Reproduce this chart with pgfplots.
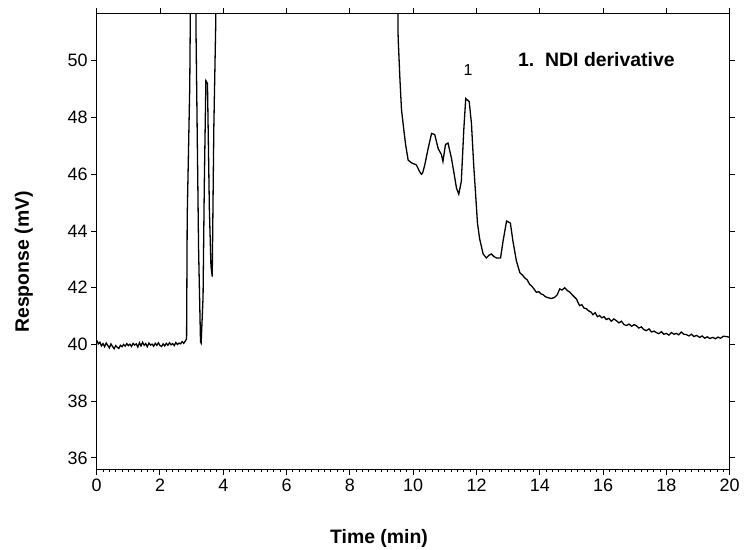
\documentclass[border=0pt]{standalone}
\usepackage{fontspec}
\setmainfont{Liberation Sans}
\usepackage{pgfplots}
\pgfplotsset{compat=1.18}
\begin{document}
\begin{tikzpicture}
\path[use as bounding box] (-96.7bp,-81bp) rectangle (650.3bp,469bp);
\pgfplotsset{chrom/.style={
  at={(0,0)}, anchor=south west,
  scale only axis, width=633bp, height=455bp,
  xmin=0, xmax=20, ymin=35.61, ymax=51.65,
  xtick={0,2,...,20}, ytick={36,38,...,50},
  tick align=outside,
  axis line style={line width=1bp},
  every tick/.style={black, line width=1bp},
}}
\begin{axis}[
  chrom,
  xtick pos=left, ytick pos=left,
  minor x tick num=9,
  major tick length=5.5bp, minor tick length=2.5bp,
  tick label style={font=\fontsize{18}{18}\selectfont},
  xticklabel style={yshift=-1bp},
  /pgf/number format/assume math mode=true,
  xlabel={Time (min)}, ylabel={Response (mV)},
  label style={font=\fontsize{19.5}{19.5}\selectfont\bfseries},
  xlabel style={at={(axis description cs:0.446,-0.152)}, anchor=center},
  ylabel style={at={(axis description cs:-0.115,0.455)}, anchor=center},
]
\addplot[black, line width=1.3bp] coordinates {
(0.00,40.15)(0.05,40.02)(0.10,40.08)(0.15,39.95)(0.20,40.03)(0.25,39.92)(0.30,40.05)(0.35,39.97)(0.40,39.88)(0.45,40.02)
(0.50,39.93)(0.55,39.85)(0.60,39.96)(0.65,39.90)(0.70,39.86)(0.75,39.97)(0.80,39.92)(0.85,40.00)(0.90,39.94)(0.95,40.03)
(1.00,39.96)(1.05,40.01)(1.10,39.93)(1.15,40.04)(1.20,39.98)(1.25,40.02)(1.30,39.91)(1.35,40.06)(1.40,39.95)(1.45,40.08)
(1.50,39.97)(1.55,40.03)(1.60,39.92)(1.65,40.05)(1.70,39.98)(1.75,40.01)(1.80,39.94)(1.85,40.04)(1.90,39.97)(1.95,40.06)
(2.00,39.96)(2.05,39.93)(2.10,40.02)(2.15,39.95)(2.20,40.04)(2.25,39.97)(2.30,40.06)(2.35,39.99)(2.40,40.03)(2.45,39.96)
(2.50,40.07)(2.55,40.00)(2.60,40.05)(2.65,40.02)(2.70,40.10)(2.75,40.04)(2.80,40.12)(2.84,40.20)
(2.86,44.5)(2.94,49.1)(3.02,60)(3.12,60)(3.14,50.84)(3.22,43.3)(3.28,40.1)
(3.30,40.05)(3.36,41.65)(3.40,45.65)(3.45,49.3)(3.50,49.2)(3.56,44.77)(3.61,42.77)(3.65,42.39)(3.70,47.6)(3.76,51.26)(3.80,60)
(9.50,60)
(9.52,51.0)(9.53,50.67)(9.58,49.37)(9.63,48.28)(9.70,47.6)(9.76,47.05)(9.84,46.5)(9.95,46.4)(10.10,46.33)(10.20,46.1)
(10.26,46.0)(10.30,46.05)(10.37,46.35)(10.47,46.9)(10.58,47.44)(10.68,47.4)(10.79,46.9)(10.89,46.7)(10.94,46.45)(11.02,47.05)
(11.10,47.1)(11.21,46.56)(11.28,46.1)(11.37,45.5)(11.44,45.3)(11.52,45.75)(11.60,47.6)(11.66,48.67)(11.77,48.56)(11.84,47.8)
(11.91,46.35)(11.98,45.16)(12.03,44.28)(12.10,43.72)(12.21,43.19)(12.31,43.05)(12.40,43.15)(12.47,43.19)(12.55,43.1)(12.63,43.05)
(12.76,43.05)(12.84,43.65)(12.95,44.35)(13.07,44.28)(13.15,43.65)(13.26,42.95)(13.37,42.53)(13.45,42.45)(13.52,42.35)(13.60,42.28)
(13.68,42.12)(13.75,42.05)(13.82,41.95)(13.89,41.84)(13.97,41.86)(14.04,41.78)(14.10,41.76)(14.18,41.68)(14.26,41.65)(14.36,41.62)
(14.47,41.66)(14.55,41.75)(14.63,41.96)(14.70,41.92)(14.79,42.0)(14.87,41.9)(14.95,41.84)(15.05,41.72)(15.16,41.6)(15.22,41.45)
(15.26,41.37)(15.33,41.40)(15.40,41.28)(15.47,41.26)(15.55,41.18)(15.62,41.14)(15.68,41.05)(15.75,41.12)(15.82,40.98)(15.89,41.02)
(15.96,40.94)(16.03,40.98)(16.10,40.88)(16.18,40.92)(16.26,40.82)(16.34,40.90)(16.42,40.84)(16.50,40.76)(16.58,40.82)(16.66,40.70)
(16.74,40.67)(16.82,40.72)(16.90,40.64)(16.98,40.70)(17.05,40.66)(17.13,40.58)(17.21,40.62)(17.29,40.52)(17.37,40.49)(17.45,40.55)
(17.53,40.44)(17.61,40.47)(17.68,40.42)(17.76,40.38)(17.84,40.45)(17.92,40.36)(18.00,40.39)(18.08,40.33)(18.16,40.42)(18.24,40.36)
(18.31,40.39)(18.39,40.34)(18.47,40.44)(18.55,40.36)(18.63,40.35)(18.71,40.30)(18.79,40.36)(18.87,40.28)(18.95,40.32)(19.05,40.25)
(19.13,40.30)(19.21,40.22)(19.29,40.27)(19.37,40.21)(19.47,40.25)(19.55,40.20)(19.63,40.26)(19.71,40.22)(19.80,40.29)(19.89,40.28)
(20.00,40.25)
};
\node[font=\fontsize{16}{16}\selectfont] at (axis cs:11.73,49.68) {1};
\node[font=\fontsize{19.5}{19.5}\selectfont\bfseries] at (axis cs:15.79,50.05) {1.\ \ NDI derivative};
\end{axis}
\begin{axis}[
  chrom,
  xtick pos=right, ytick pos=right,
  major tick length=5.5bp,
  xticklabels={}, yticklabels={},
]
\end{axis}
\end{tikzpicture}
\end{document}
